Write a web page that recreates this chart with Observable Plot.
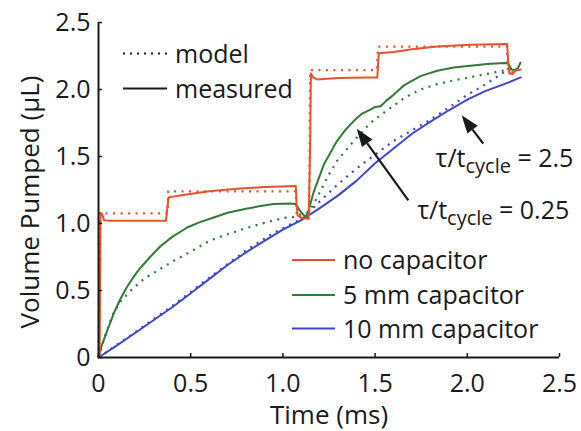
<!DOCTYPE html>
<html>
<head>
<meta charset="utf-8">
<script src="https://cdn.jsdelivr.net/npm/d3@7"></script>
<script src="https://cdn.jsdelivr.net/npm/@observablehq/plot@0.6"></script>
<style>
  html, body { margin: 0; padding: 0; background: #fff; }
  #chart { width: 581px; height: 431px; }
  #chart svg { display: block; }
</style>
</head>
<body>
<div id="chart"></div>
<script>
// Axis ticks (shared by x: time in ms, y: volume in µL)
const tickValues = [0, 0.5, 1.0, 1.5, 2.0, 2.5];
const tickLabels = ["0", "0.5", "1.0", "1.5", "2.0", "2.5"];

// Series: [time (ms), volume pumped (µL)]
const noCapModel = [[0,0],[0.006,1.075],[0.375,1.075],[0.378,1.24],[1.07,1.24],[1.075,1.05],[1.143,1.05],[1.147,2.145],[1.51,2.145],[1.515,2.32],[2.215,2.32],[2.22,2.13],[2.28,2.13]];
const noCapMeasured = [[0,0],[0.006,0.02],[0.011,1.08],[0.02,1.07],[0.03,1.025],[0.06,1.02],[0.2,1.02],[0.366,1.02],[0.372,1.1],[0.38,1.195],[0.45,1.21],[0.6,1.24],[0.75,1.26],[0.9,1.272],[1.07,1.28],[1.074,1.15],[1.08,1.06],[1.1,1.04],[1.14,1.035],[1.148,1.6],[1.152,2.12],[1.165,2.09],[1.186,2.075],[1.3,2.085],[1.45,2.09],[1.512,2.09],[1.52,2.27],[1.6,2.28],[1.7,2.3],[1.837,2.321],[2.017,2.334],[2.216,2.34],[2.222,2.2],[2.228,2.12],[2.245,2.115],[2.26,2.14],[2.29,2.15]];

const cap5Model = [[0,0],[0.04,0.18],[0.08,0.33],[0.12,0.42],[0.19,0.52],[0.25,0.59],[0.318,0.647],[0.408,0.722],[0.5,0.79],[0.6,0.87],[0.7,0.92],[0.8,0.965],[0.9,1.005],[1.0,1.04],[1.06,1.05],[1.1,1.07],[1.13,1.08],[1.16,1.13],[1.186,1.194],[1.24,1.343],[1.294,1.468],[1.385,1.617],[1.44,1.7],[1.475,1.75],[1.53,1.81],[1.566,1.845],[1.656,1.935],[1.746,2.0],[1.837,2.04],[1.927,2.068],[2.017,2.092],[2.108,2.117],[2.198,2.142],[2.22,2.15]];
const cap5Measured = [[0,0],[0.02,0.1],[0.05,0.21],[0.083,0.33],[0.12,0.44],[0.156,0.53],[0.2,0.62],[0.228,0.67],[0.28,0.75],[0.336,0.83],[0.4,0.9],[0.481,0.97],[0.55,1.01],[0.625,1.045],[0.7,1.08],[0.8,1.11],[0.878,1.13],[0.95,1.145],[1.04,1.15],[1.07,1.145],[1.09,1.1],[1.123,1.045],[1.14,1.1],[1.168,1.24],[1.222,1.44],[1.294,1.617],[1.34,1.7],[1.385,1.766],[1.43,1.82],[1.475,1.85],[1.5,1.87],[1.53,1.875],[1.56,1.915],[1.6,1.96],[1.656,2.03],[1.746,2.1],[1.837,2.14],[1.927,2.164],[2.017,2.177],[2.108,2.19],[2.2,2.197],[2.222,2.195],[2.24,2.15],[2.258,2.145],[2.275,2.16],[2.288,2.2]];

const cap10Model = [[0,0],[0.2,0.19],[0.4,0.385],[0.6,0.595],[0.8,0.8],[0.95,0.93],[1.05,1.0],[1.113,1.045],[1.2,1.165],[1.3,1.295],[1.4,1.41],[1.5,1.515],[1.6,1.615],[1.7,1.695],[1.8,1.775],[1.9,1.865],[2.0,1.96],[2.1,2.04],[2.2,2.13],[2.24,2.155]];
const cap10Measured = [[0,0],[0.1,0.09],[0.2,0.185],[0.3,0.28],[0.4,0.375],[0.5,0.48],[0.6,0.585],[0.7,0.69],[0.8,0.785],[0.9,0.87],[1.0,0.955],[1.1,1.025],[1.2,1.115],[1.3,1.21],[1.4,1.32],[1.5,1.45],[1.6,1.56],[1.7,1.67],[1.8,1.76],[1.9,1.845],[2.0,1.925],[2.1,1.99],[2.2,2.04],[2.29,2.09]];

// Annotations: label, text anchor, arrow tail and tip (data units)
const noteLabels = ["τ/t_{cycle} = 2.5", "τ/t_{cycle} = 0.25"];
const noteX = [1.828, 1.728];
const noteY = [1.478, 1.093];
const arrowTailX = [2.089, 1.683];
const arrowTailY = [1.593, 1.169];
const arrowTipX = [1.972, 1.403];
const arrowTipY = [1.804, 1.704];

const legendStyles = ["model", "measured"];
const legendSeries = ["no capacitor", "5 mm capacitor", "10 mm capacitor"];

const RED = "#e8512c", GREEN = "#2f7b37", BLUE = "#3d47c8", INK = "#1a1a1a";
const FONT = "'Open Sans', sans-serif";
const FS = 25;

const notes = noteLabels.map((label, i) => ({
  label, x: noteX[i], y: noteY[i],
  x1: arrowTailX[i], y1: arrowTailY[i], x2: arrowTipX[i], y2: arrowTipY[i]
}));

const fmt = d => tickLabels[tickValues.indexOf(d)];
const dotted = {strokeWidth: 2.2, strokeDasharray: "2,5.5", strokeLinecap: "butt"};
const solid = {strokeWidth: 2, strokeLinejoin: "round"};
const X = d => d[0], Y = d => d[1];

// Text with a "_{...}" part rendered as a subscript
function subscriptText(index, scales, values, dimensions, context, next) {
  const g = next(index, scales, values, dimensions, context);
  d3.select(g).selectAll("text").each(function () {
    const m = this.textContent.match(/^(.*)_\{(.*)\}(.*)$/);
    if (!m) return;
    const t = d3.select(this).text(null);
    t.append("tspan").text(m[1]);
    t.append("tspan").attr("dy", 6).attr("font-size", 20).text(m[2]);
    t.append("tspan").attr("dy", -6).text(m[3]);
  });
  return g;
}

// Arrow with a filled triangular head
function filledArrows(index, scales, values) {
  const {x1: X1, y1: Y1, x2: X2, y2: Y2} = values;
  const g = d3.create("svg:g");
  const L = 18, W = 6.5;
  for (const i of index) {
    const ax = X1[i], ay = Y1[i], bx = X2[i], by = Y2[i];
    const a = Math.atan2(by - ay, bx - ax);
    const cx = bx - L * Math.cos(a), cy = by - L * Math.sin(a);
    const px = -Math.sin(a) * W, py = Math.cos(a) * W;
    g.append("line").attr("x1", ax).attr("y1", ay).attr("x2", cx).attr("y2", cy)
      .attr("stroke", INK).attr("stroke-width", 2.2);
    g.append("path").attr("d", `M${bx},${by}L${cx + px},${cy + py}L${cx - px},${cy - py}Z`)
      .attr("fill", INK);
  }
  return g.node();
}

const plot = Plot.plot({
  width: 581,
  height: 431,
  marginLeft: 98,
  marginRight: 22,
  marginTop: 22,
  marginBottom: 74,
  style: {fontFamily: FONT, fontSize: FS + "px", color: INK, background: "#fff"},
  x: {domain: [0, 2.5]},
  y: {domain: [0, 2.5]},
  marks: [
    // model curves
    Plot.line(cap10Model, {x: X, y: Y, stroke: BLUE, ...dotted}),
    Plot.line(cap5Model, {x: X, y: Y, stroke: GREEN, ...dotted}),
    Plot.line(noCapModel, {x: X, y: Y, stroke: RED, ...dotted}),
    // measured curves
    Plot.line(cap10Measured, {x: X, y: Y, stroke: BLUE, ...solid}),
    Plot.line(cap5Measured, {x: X, y: Y, stroke: GREEN, ...solid}),
    Plot.line(noCapMeasured, {x: X, y: Y, stroke: RED, ...solid}),
    // axes
    Plot.ruleX([0], {stroke: INK, strokeWidth: 2}),
    Plot.ruleY([0], {stroke: INK, strokeWidth: 2}),
    Plot.axisY(tickValues, {anchor: "left", tickSize: -4, fill: "none", stroke: INK, strokeWidth: 1.5, label: null}),
    Plot.axisY(tickValues, {anchor: "left", tickSize: 0, tickPadding: 8, tickFormat: fmt, fill: INK, label: null}),
    Plot.axisX(tickValues, {anchor: "bottom", tickSize: -4, fill: "none", stroke: INK, strokeWidth: 1.5, label: null}),
    Plot.axisX(tickValues, {anchor: "bottom", tickSize: 0, tickPadding: 17, tickFormat: fmt, fill: INK, label: null}),
    // axis titles
    Plot.text(["Time (ms)"], {frameAnchor: "bottom", textAnchor: "middle", lineAnchor: "bottom", dy: 66, fill: INK, fontSize: 26}),
    Plot.text(["Volume Pumped (μL)"], {frameAnchor: "left", textAnchor: "middle", lineAnchor: "middle", dx: -68, dy: 12, rotate: -90, fill: INK, fontSize: 26}),
    // annotations
    Plot.arrow(notes, {x1: "x1", y1: "y1", x2: "x2", y2: "y2", render: filledArrows}),
    Plot.text(notes, {x: "x", y: "y", text: "label", textAnchor: "start", fill: INK, fontSize: FS, render: subscriptText})
  ]
});

// In-plot legends
const svg = d3.select(plot);
const leg = svg.append("g").attr("font-family", FONT).attr("font-size", FS)
  .attr("fill", INK).attr("text-anchor", "start");
const styleRows = [53.5, 88.5];
legendStyles.forEach((label, i) => {
  const y = styleRows[i];
  leg.append("line").attr("x1", 123).attr("x2", 167).attr("y1", y).attr("y2", y)
    .attr("stroke", INK).attr("stroke-width", i === 0 ? 2.2 : 2)
    .attr("stroke-dasharray", i === 0 ? "2,5" : null);
  leg.append("text").attr("x", 175).attr("y", y + 9).text(label);
});
const seriesRows = [260, 295, 328.5];
const seriesColors = [RED, GREEN, BLUE];
legendSeries.forEach((label, i) => {
  const y = seriesRows[i];
  leg.append("line").attr("x1", 292).attr("x2", 335).attr("y1", y).attr("y2", y)
    .attr("stroke", seriesColors[i]).attr("stroke-width", 1.8);
  leg.append("text").attr("x", 343).attr("y", y + 9).text(label);
});

document.getElementById("chart").appendChild(plot);
</script>
</body>
</html>
